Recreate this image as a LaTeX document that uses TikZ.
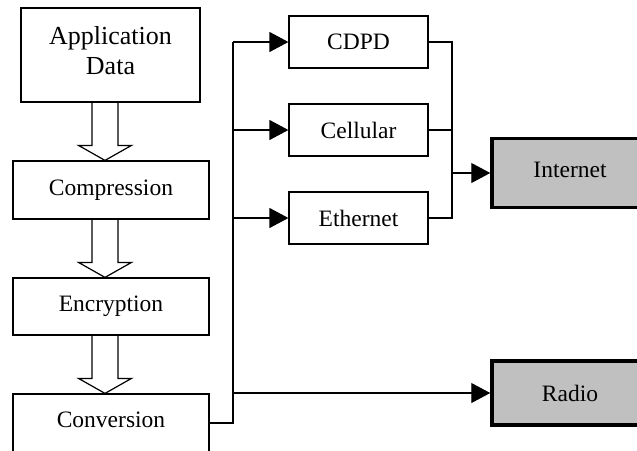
\documentclass[tikz,border=0pt]{standalone}
\usepackage{fontspec}
\setmainfont{Liberation Serif}
\usetikzlibrary{arrows.meta,calc}
\definecolor{destgray}{HTML}{C0C0C0}
\newcommand\mainfs{\fontsize{23.5}{28}\selectfont}
\newcommand\appfs{\fontsize{26}{30}\selectfont}
\newcommand\hollowarrow[2]{%
  \draw[hollowarr] let \p1=(#1.south), \p2=(#2.north) in
    (\x2-19pt,\y1) -- (\x2-19pt,\y2+15pt) -- (\x2-32.5pt,\y2+15pt) -- (\x2-6pt,\y2)
    -- (\x2+20.5pt,\y2+15pt) -- (\x2+7pt,\y2+15pt) -- (\x2+7pt,\y1);}
\begin{document}
\begin{tikzpicture}[x=1pt,y=-1pt,
  stage/.style={draw, line width=1.2pt, inner sep=0pt, minimum width=196pt, font=\mainfs},
  net/.style={draw, line width=1.2pt, inner sep=0pt, minimum width=139pt, minimum height=52pt, font=\mainfs},
  dest/.style={draw, line width=3.5pt, fill=destgray, inner sep=0pt, minimum width=156pt, font=\mainfs},
  link/.style={line width=1.2pt, -{Triangle[length=19pt,width=20pt]}},
  plain/.style={line width=1.2pt},
  hollowarr/.style={line width=1.2pt, line join=miter}]
\useasboundingbox (0,0) rectangle (637,450);
\clip (0,0) rectangle (637,450);

% left chain
\node[stage, minimum width=179pt, minimum height=94pt] (app) at (110.5,55) {};
\node[font=\appfs, align=center, inner sep=0pt] (apptext) at ($(app.center)+(0,-4)$) {Application\\Data};
\node[stage, minimum height=58pt] (comp) at (111,190) {Compression};
\node[stage, minimum height=57pt] (encr) at (111,306.5) {Encryption};
\node[stage, minimum height=70pt, text height=16pt, text depth=20pt] (conv) at (111,429) {Conversion};

\hollowarrow{app}{comp}
\hollowarrow{comp}{encr}
\hollowarrow{encr}{conv}

% networks
\node[net] (cdpd) at (358.5,42) {CDPD};
\node[net] (cell) at (358.5,130) {Cellular};
\node[net] (eth)  at (358.5,218) {Ethernet};

\node[dest, minimum height=69pt, text height=16pt, text depth=8pt] (inet) at (570,173) {Internet};
\node[dest, minimum height=64pt] (radio) at (570,393) {Radio};

% trunk
\coordinate (trunkbot) at (233,423);
\coordinate (coll) at (452,173);
\draw[plain] (conv.east |- trunkbot) -- (trunkbot) -- (trunkbot |- cdpd.west);
\draw[link] (trunkbot |- cdpd.west) -- (cdpd.west);
\draw[link] (trunkbot |- cell.west) -- (cell.west);
\draw[link] (trunkbot |- eth.west) -- (eth.west);
\draw[link] (trunkbot |- radio.west) -- (radio.west);

% collector
\draw[plain] (cdpd.east) -| (coll |- eth.east) -- (eth.east);
\draw[plain] (cell.east) -- (coll |- cell.east);
\draw[link] (coll |- inet.west) -- (inet.west);
\end{tikzpicture}
\end{document}
